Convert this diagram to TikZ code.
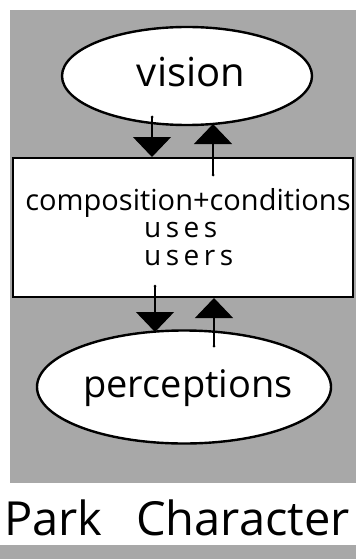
\documentclass[tikz,border=0pt]{standalone}
\usepackage{fontspec}
\setmainfont{Open Sans}
\usetikzlibrary{shapes.geometric,arrows.meta,calc}
\definecolor{halftone}{gray}{0.66}
\tikzset{
  bubble/.style={ellipse, draw=black, line width=2.4pt, fill=white, inner sep=0pt},
  panel/.style={rectangle, draw=black, line width=2pt, fill=white, inner sep=0pt},
  flow/.style={line width=1.1pt, -{Triangle[width=38pt,length=20pt]}},
  hand/.style={inner sep=0pt, font=\fontsize{29}{29}\selectfont},
  wide/.style={inner sep=0pt, anchor=west, font=\fontsize{28}{28}\selectfont\addfontfeature{LetterSpace=16}},
}
\begin{document}
\begin{tikzpicture}[x=1pt,y=-1pt]
\useasboundingbox (0,0) rectangle (356,559);
\fill[white] (0,0) rectangle (356,559);
% halftone background areas
\fill[halftone] (10,10) rectangle (356,483);
\fill[halftone] (0,545) rectangle (356,559);
% nodes
\node[bubble, minimum width=250pt, minimum height=98pt] (vision) at (187,76) {};
\node[hand, font=\fontsize{40}{40}\selectfont] (visiontxt) at (191,72) {vision};
\node[panel, minimum width=340pt, minimum height=139pt] (box) at (183,227.5) {};
\node[hand] (comp) at (188,203) {composition+conditions};
\node[wide] (uses) at (144,230) {uses};
\node[wide] (users) at (144,258.5) {users};
\node[bubble, minimum width=294pt, minimum height=113pt] (perc) at (184,387) {};
\node[hand, font=\fontsize{38}{38}\selectfont] (perctxt) at (188,388) {perceptions};
\node[inner sep=0pt, font=\fontsize{47}{47}\selectfont] (title) at (177,518) {Park\hspace{34pt}Character};
% connector anchors
\coordinate (t1) at (152,117);
\coordinate (t2) at (213,175);
\coordinate (t3) at (155,286);
\coordinate (t4) at (214,346);
% connectors
\draw[flow] (t1) -- (t1 |- box.north);
\draw[flow] (t2) -- (213,124);
\draw[flow] (t3) -- (155,332);
\draw[flow] (t4) -- (t4 |- box.south);
\fill (t1) circle (1.5pt);
\fill (t2) circle (1.5pt);
\fill (t3) circle (1.5pt);
\fill (t4) circle (1.5pt);
\end{tikzpicture}
\end{document}
